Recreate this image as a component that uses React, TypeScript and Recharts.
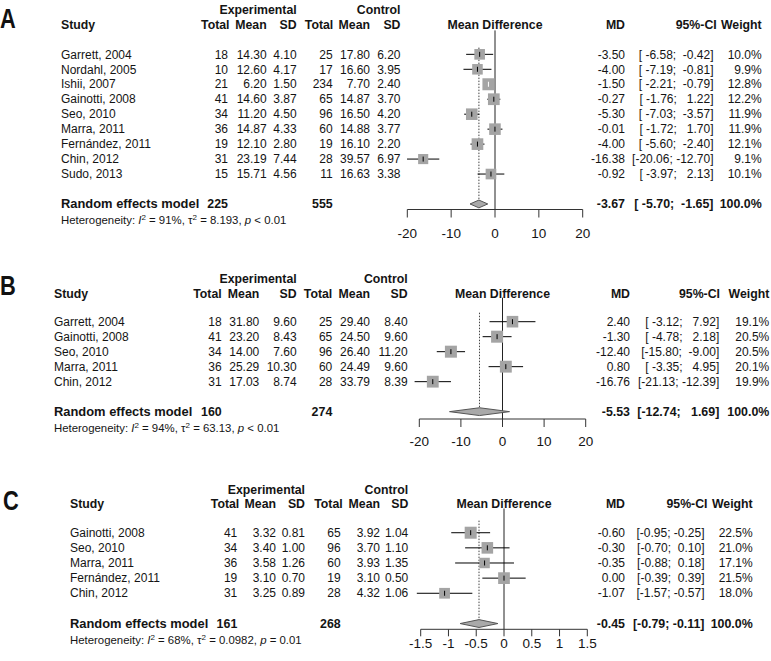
import React from 'react';
import { ComposedChart, Scatter, XAxis, YAxis, ErrorBar, ReferenceLine } from 'recharts';

const PAGE_W = 771;
const PAGE_H = 661;
const SANS = '"Liberation Sans", Arimo, Arial, sans-serif';
const X_AXIS_H = 30;
const Y_MIN = -1.6;
const DIAMOND_H = 0.26;
const TXT = '#141414';

// ---------- A ----------
const studiesA = ['Garrett, 2004', 'Nordahl, 2005', 'Ishii, 2007', 'Gainotti, 2008', 'Seo, 2010', 'Marra, 2011', 'Fernández, 2011', 'Chin, 2012', 'Sudo, 2013'];
const expTotalA = [18, 10, 21, 41, 34, 36, 19, 31, 15];
const expMeanA = [14.3, 12.6, 6.2, 14.6, 11.2, 14.87, 12.1, 23.19, 15.71];
const expSdA = [4.1, 4.17, 1.5, 3.87, 4.5, 4.33, 2.8, 7.44, 4.56];
const ctrlTotalA = [25, 17, 234, 65, 96, 60, 19, 28, 11];
const ctrlMeanA = [17.8, 16.6, 7.7, 14.87, 16.5, 14.88, 16.1, 39.57, 16.63];
const ctrlSdA = [6.2, 3.95, 2.4, 3.7, 4.2, 3.77, 2.2, 6.97, 3.38];
const mdA = [-3.5, -4.0, -1.5, -0.27, -5.3, -0.01, -4.0, -16.38, -0.92];
const loA = [-6.58, -7.19, -2.21, -1.76, -7.03, -1.72, -5.6, -20.06, -3.97];
const hiA = [-0.42, -0.81, -0.79, 1.22, -3.57, 1.7, -2.4, -12.7, 2.13];
const weightA = [10.0, 9.9, 12.8, 12.2, 11.9, 11.9, 12.1, 9.1, 10.1];
const pooledA = { md: -3.67, lo: -5.7, hi: -1.65, expTotal: 225, ctrlTotal: 555, i2: '91%', tau2: '8.193', p: '< 0.01' };
const ticksA = [-20, -10, 0, 10, 20];

// ---------- B ----------
const studiesB = ['Garrett, 2004', 'Gainotti, 2008', 'Seo, 2010', 'Marra, 2011', 'Chin, 2012'];
const expTotalB = [18, 41, 34, 36, 31];
const expMeanB = [31.8, 23.2, 14.0, 25.29, 17.03];
const expSdB = [9.6, 8.43, 7.6, 10.3, 8.74];
const ctrlTotalB = [25, 65, 96, 60, 28];
const ctrlMeanB = [29.4, 24.5, 26.4, 24.49, 33.79];
const ctrlSdB = [8.4, 9.6, 11.2, 9.6, 8.39];
const mdB = [2.4, -1.3, -12.4, 0.8, -16.76];
const loB = [-3.12, -4.78, -15.8, -3.35, -21.13];
const hiB = [7.92, 2.18, -9.0, 4.95, -12.39];
const weightB = [19.1, 20.5, 20.5, 20.1, 19.9];
const pooledB = { md: -5.53, lo: -12.74, hi: 1.69, expTotal: 160, ctrlTotal: 274, i2: '94%', tau2: '63.13', p: '< 0.01' };
const ticksB = [-20, -10, 0, 10, 20];

// ---------- C ----------
const studiesC = ['Gainotti, 2008', 'Seo, 2010', 'Marra, 2011', 'Fernández, 2011', 'Chin, 2012'];
const expTotalC = [41, 34, 36, 19, 31];
const expMeanC = [3.32, 3.4, 3.58, 3.1, 3.25];
const expSdC = [0.81, 1.0, 1.26, 0.7, 0.89];
const ctrlTotalC = [65, 96, 60, 19, 28];
const ctrlMeanC = [3.92, 3.7, 3.93, 3.1, 4.32];
const ctrlSdC = [1.04, 1.1, 1.35, 0.5, 1.06];
const mdC = [-0.6, -0.3, -0.35, 0.0, -1.07];
const loC = [-0.95, -0.7, -0.88, -0.39, -1.57];
const hiC = [-0.25, 0.1, 0.18, 0.39, -0.57];
const weightC = [22.5, 21.0, 17.1, 21.5, 18.0];
const pooledC = { md: -0.45, lo: -0.79, hi: -0.11, expTotal: 161, ctrlTotal: 268, i2: '68%', tau2: '0.0982', p: '= 0.01' };
const ticksC = [-1.5, -1, -0.5, 0, 0.5, 1, 1.5];

type Pooled = typeof pooledA;
type PanelData = {
  letter: string; studies: string[]; expTotal: number[]; expMean: number[]; expSd: number[];
  ctrlTotal: number[]; ctrlMean: number[]; ctrlSd: number[]; md: number[]; lo: number[]; hi: number[];
  weight: number[]; pooled: Pooled; ticks: number[];
};

type Cols = { study: number; expTotal: number; expTotalH: number; expMean: number; expSd: number; ctrlTotal: number; ctrlTotalH: number; ctrlMean: number; ctrlSd: number; md: number; ci: number; ciH: number; weight: number };
type Layout = { top: number; height: number; tickPx: [number, number]; pad: number; plotTop: number; axisY: number; yMax: number; dotTop: number; tickSize: number; tickMargin: number; groupY: number; headY: number; letterX: number; letterY: number; cols: Cols };

const panelA: PanelData = { letter: 'A', studies: studiesA, expTotal: expTotalA, expMean: expMeanA, expSd: expSdA, ctrlTotal: ctrlTotalA, ctrlMean: ctrlMeanA, ctrlSd: ctrlSdA, md: mdA, lo: loA, hi: hiA, weight: weightA, pooled: pooledA, ticks: ticksA };
const panelB: PanelData = { letter: 'B', studies: studiesB, expTotal: expTotalB, expMean: expMeanB, expSd: expSdB, ctrlTotal: ctrlTotalB, ctrlMean: ctrlMeanB, ctrlSd: ctrlSdB, md: mdB, lo: loB, hi: hiB, weight: weightB, pooled: pooledB, ticks: ticksB };
const panelC: PanelData = { letter: 'C', studies: studiesC, expTotal: expTotalC, expMean: expMeanC, expSd: expSdC, ctrlTotal: ctrlTotalC, ctrlMean: ctrlMeanC, ctrlSd: ctrlSdC, md: mdC, lo: loC, hi: hiC, weight: weightC, pooled: pooledC, ticks: ticksC };

const layoutA: Layout = {
  top: 0, height: 245, tickPx: [407.3, 582.7], pad: 2, plotTop: 30.4, axisY: 209.5, yMax: 10.37, dotTop: -0.45,
  tickSize: 8, tickMargin: 11, groupY: 10, headY: 25, letterX: 0, letterY: 28,
  cols: { study: 61, expTotal: 228, expTotalH: 229.5, expMean: 266.7, expSd: 296.7, ctrlTotal: 332.7, ctrlTotalH: 333.3, ctrlMean: 370, ctrlSd: 400.5, md: 625, ci: 713.5, ciH: 716.7, weight: 761.7 },
};
const layoutB: Layout = {
  top: 250, height: 200, tickPx: [419.3, 585.7], pad: 2, plotTop: 297.7, axisY: 419, yMax: 6.49, dotTop: -0.6,
  tickSize: 8, tickMargin: 9, groupY: 278.3, headY: 293.3, letterX: 0, letterY: 295,
  cols: { study: 54, expTotal: 221.7, expTotalH: 221.7, expMean: 259.3, expSd: 296.7, ctrlTotal: 332.3, ctrlTotalH: 332.3, ctrlMean: 370, ctrlSd: 407.7, md: 630, ci: 719.3, ciH: 720, weight: 769.3 },
};
const layoutC: Layout = {
  top: 455, height: 206, tickPx: [420.7, 587.3], pad: 0.15, plotTop: 508.5, axisY: 629.3, yMax: 6.38, dotTop: -0.8,
  tickSize: 7, tickMargin: 2, groupY: 490, headY: 503.3, letterX: 3, letterY: 510,
  cols: { study: 70, expTotal: 237.3, expTotalH: 239.3, expMean: 276, expSd: 305, ctrlTotal: 340.7, ctrlTotalH: 342.7, ctrlMean: 380, ctrlSd: 408.3, md: 625, ci: 704.5, ciH: 707.5, weight: 752.7 },
};

const padCol = (vals: number[]) => {
  const s = vals.map((v) => v.toFixed(2));
  const w = Math.max(...s.map((x) => x.length));
  return s.map((x) => x.padStart(w, ' '));
};

function ForestPanel({ d, L }: { d: PanelData; L: Layout }) {
  const t0 = d.ticks[0];
  const t1 = d.ticks[d.ticks.length - 1];
  const ppu = (L.tickPx[1] - L.tickPx[0]) / (t1 - t0);
  const domain = [t0 - L.pad, t1 + L.pad];
  const margin = {
    left: L.tickPx[0] - L.pad * ppu,
    right: PAGE_W - L.tickPx[1] - L.pad * ppu,
    top: L.plotTop - L.top,
    bottom: L.height - (L.axisY - L.top) - X_AXIS_H,
  };
  const c = L.cols;
  const maxW = Math.max(...d.weight);
  const loTxt = padCol([...d.lo, d.pooled.lo]);
  const hiTxt = padCol([...d.hi, d.pooled.hi]);
  const n = d.studies.length;

  const rows = d.studies.map((s, i) => {
    const side = 12 * Math.sqrt(d.weight[i] / maxW);
    return {
      x: d.md[i], y: i, err: [d.md[i] - d.lo[i], d.hi[i] - d.md[i]], side,
      inside: (d.hi[i] - d.lo[i]) * ppu < side,
      study: s, expTotal: d.expTotal[i], expMean: d.expMean[i], expSd: d.expSd[i],
      ctrlTotal: d.ctrlTotal[i], ctrlMean: d.ctrlMean[i], ctrlSd: d.ctrlSd[i],
      ci: `[${loTxt[i]}; ${hiTxt[i]}]`, weight: d.weight[i],
    };
  });
  const py = n + 1;
  const pooledRow = [{ x: d.pooled.md, y: py }];
  const diamond = [
    { x: d.pooled.lo, y: py },
    { x: d.pooled.md, y: py - DIAMOND_H },
    { x: d.pooled.hi, y: py },
    { x: d.pooled.md, y: py + DIAMOND_H },
  ];
  const pooledCi = `[${loTxt[n]}; ${hiTxt[n]}]`;

  const R = (x: number, y: number, s: React.ReactNode, bold = false) => (
    <text x={x} y={y} dy="0.35em" textAnchor="end" fontWeight={bold ? 700 : 400} fontSize={bold ? 12.4 : 12} style={{ whiteSpace: 'pre' }} xmlSpace="preserve">{s}</text>
  );

  const rowShape = (p: any) => {
    const { cx, cy, payload: r } = p;
    return (
      <g fontFamily={SANS} fontSize={12} fill={TXT}>
        <rect x={cx - r.side / 2} y={cy - r.side / 2} width={r.side} height={r.side} fill="#a4a4a4" />
        <text x={c.study} y={cy} dy="0.35em">{r.study}</text>
        {R(c.expTotal, cy, r.expTotal)}
        {R(c.expMean, cy, r.expMean.toFixed(2))}
        {R(c.expSd, cy, r.expSd.toFixed(2))}
        {R(c.ctrlTotal, cy, r.ctrlTotal)}
        {R(c.ctrlMean, cy, r.ctrlMean.toFixed(2))}
        {R(c.ctrlSd, cy, r.ctrlSd.toFixed(2))}
        {R(c.md, cy, r.x.toFixed(2))}
        {R(c.ci, cy, r.ci)}
        {R(c.weight, cy, `${r.weight.toFixed(1)}%`)}
      </g>
    );
  };

  const tickShape = (color: string) => (p: any) => (
    <line x1={p.cx} x2={p.cx} y1={p.cy - 2.5} y2={p.cy + 2.5} stroke={color} strokeWidth={1} />
  );

  const pooledShape = (p: any) => {
    const { cy } = p;
    return (
      <g fontFamily={SANS} fontSize={12} fill={TXT}>
        <text x={c.study} y={cy} dy="0.35em" fontWeight={700} fontSize={12.9}>Random effects model</text>
        {R(c.expTotal, cy, d.pooled.expTotal, true)}
        {R(c.ctrlTotal, cy, d.pooled.ctrlTotal, true)}
        {R(c.md, cy, d.pooled.md.toFixed(2), true)}
        {R(c.ci, cy, pooledCi, true)}
        {R(c.weight, cy, '100.0%', true)}
        <text x={c.study} y={cy + 16} dy="0.35em" fontSize={11.4}>
          Heterogeneity: <tspan fontStyle="italic">I</tspan>
          <tspan dy={-4} fontSize={8}>2</tspan>
          <tspan dy={4}> = {d.pooled.i2}, τ</tspan>
          <tspan dy={-4} fontSize={8}>2</tspan>
          <tspan dy={4}> = {d.pooled.tau2}, </tspan>
          <tspan fontStyle="italic">p</tspan>
          <tspan> {d.pooled.p}</tspan>
        </text>
      </g>
    );
  };

  const diamondLine = (p: any) => {
    const pts = (p.points || []).map((q: any) => `${q.x},${q.y}`).join(' ');
    return <polygon points={pts} fill="#a9a9a9" stroke="#555" strokeWidth={1} />;
  };

  return (
    <div style={{ position: 'absolute', left: 0, top: L.top }}>
      <ComposedChart width={PAGE_W} height={L.height} margin={margin}>
        <XAxis
          type="number" dataKey="x" domain={domain} ticks={d.ticks} interval={0}
          axisLine={false} tickSize={L.tickSize} tickMargin={L.tickMargin} height={X_AXIS_H}
          tickLine={{ stroke: '#333' }}
          tick={{ fontSize: 13.5, fill: TXT, fontFamily: SANS }}
        />
        <YAxis type="number" dataKey="y" domain={[Y_MIN, L.yMax]} reversed hide />
        <ReferenceLine segment={[{ x: 0, y: Y_MIN }, { x: 0, y: L.yMax }]} stroke="#222" ifOverflow="visible" />
        <ReferenceLine segment={[{ x: d.pooled.md, y: L.dotTop }, { x: d.pooled.md, y: py - DIAMOND_H }]} stroke="#444" strokeDasharray="1.5 1.5" ifOverflow="visible" />
        <ReferenceLine segment={[{ x: t0, y: L.yMax }, { x: t1, y: L.yMax }]} stroke="#333" ifOverflow="visible" />
        <Scatter data={rows} shape={rowShape} isAnimationActive={false} />
        <Scatter data={rows.filter((r) => !r.inside)} shape={tickShape('#000')} isAnimationActive={false}>
          <ErrorBar dataKey="err" direction="x" width={0} stroke="#000" strokeWidth={1} isAnimationActive={false} />
        </Scatter>
        <Scatter data={rows.filter((r) => r.inside)} shape={tickShape('#fff')} isAnimationActive={false}>
          <ErrorBar dataKey="err" direction="x" width={0} stroke="#fff" strokeWidth={1} isAnimationActive={false} />
        </Scatter>
        <Scatter data={diamond} shape={() => <g />} line={diamondLine} isAnimationActive={false} />
        <Scatter data={pooledRow} shape={pooledShape} isAnimationActive={false} />
      </ComposedChart>
    </div>
  );
}

function Headers({ d, L }: { d: PanelData; L: Layout }) {
  const c = L.cols;
  const mid = (L.tickPx[0] + L.tickPx[1]) / 2;
  const E = (x: number, s: string) => <text x={x} y={L.headY} dy="0.35em" textAnchor="end">{s}</text>;
  return (
    <g>
      <text transform={`translate(${L.letterX},${L.letterY}) scale(0.78,1)`} fontFamily={SANS} fontWeight={700} fontSize={28} fill="#111">{d.letter}</text>
      <g fontFamily={SANS} fontSize={12.3} fontWeight={700} fill={TXT}>
        <text x={c.expSd} y={L.groupY} dy="0.35em" textAnchor="end">Experimental</text>
        <text x={c.ctrlSd} y={L.groupY} dy="0.35em" textAnchor="end">Control</text>
        <text x={c.study} y={L.headY} dy="0.35em">Study</text>
        {E(c.expTotalH, 'Total')}
        {E(c.expMean, 'Mean')}
        {E(c.expSd, 'SD')}
        {E(c.ctrlTotalH, 'Total')}
        {E(c.ctrlMean, 'Mean')}
        {E(c.ctrlSd, 'SD')}
        <text x={mid} y={L.headY} dy="0.35em" textAnchor="middle">Mean Difference</text>
        {E(c.md, 'MD')}
        {E(c.ciH, '95%-CI')}
        {E(c.weight, 'Weight')}
      </g>
    </g>
  );
}

export default function App() {
  return (
    <div style={{ position: 'relative', width: PAGE_W, height: PAGE_H, background: '#fff', overflow: 'hidden' }}>
      <style>{'body{margin:0;background:#fff}'}</style>
      <ForestPanel d={panelA} L={layoutA} />
      <ForestPanel d={panelB} L={layoutB} />
      <ForestPanel d={panelC} L={layoutC} />
      <svg width={PAGE_W} height={PAGE_H} style={{ position: 'absolute', left: 0, top: 0, pointerEvents: 'none' }}>
        <Headers d={panelA} L={layoutA} />
        <Headers d={panelB} L={layoutB} />
        <Headers d={panelC} L={layoutC} />
      </svg>
    </div>
  );
}
